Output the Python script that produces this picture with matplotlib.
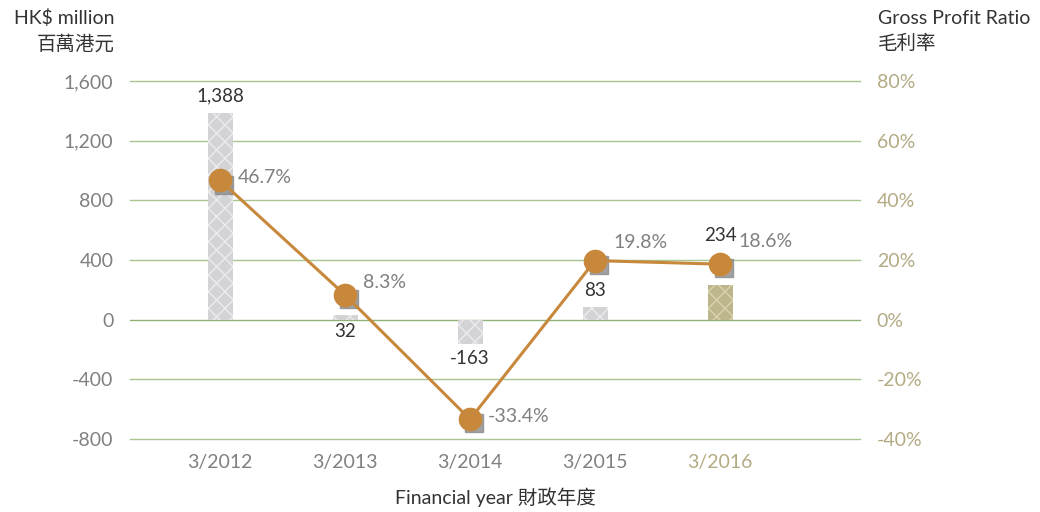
import matplotlib
matplotlib.use('Agg')
import matplotlib.pyplot as plt
import matplotlib.transforms as mtransforms

plt.rcParams['font.family'] = ['Lato', 'Noto Sans CJK TC', 'DejaVu Sans']

years = ['3/2012', '3/2013', '3/2014', '3/2015', '3/2016']
profit = [1388, 32, -163, 83, 234]
ratio = [46.7, 8.3, -33.4, 19.8, 18.6]
profit_labels = ['1,388', '32', '-163', '83', '234']
ratio_labels = ['46.7%', '8.3%', '-33.4%', '19.8%', '18.6%']
left_ticks = [-800, -400, 0, 400, 800, 1200, 1600]
right_ticks = [-40, -20, 0, 20, 40, 60, 80]

grey = '#808080'
khaki = '#b3ab84'
green = '#a9c690'
orange = '#c8883c'
dark = '#333333'

fig = plt.figure(figsize=(10.4, 5.12), dpi=100)
ax = fig.add_axes([0.125, 0.1426, 0.702, 0.6992])
x = list(range(len(years)))

# 柱狀 (灰色 + 最後一年卡其色)
bar_colors = ['#d3d3d6'] * 4 + ['#bdb58c']
bars = ax.bar(x, profit, width=0.2, color=bar_colors, zorder=2)
for b in bars:
    b.set_hatch('xx')
    b.set_edgecolor('#ececee')
    b.set_linewidth(0)
bars[-1].set_edgecolor('#d9d3b0')

ax.set_ylim(-800, 1600)
ax.set_xlim(-0.72, 5.12)
ax.set_yticks(left_ticks)
ax.set_yticklabels(['{:,}'.format(v) for v in left_ticks])
ax.set_xticks(x)
ax.set_xticklabels(years)
ax.tick_params(axis='both', length=0, labelsize=14, colors=grey)
ax.tick_params(axis='x', pad=11)
ax.get_xticklabels()[-1].set_color(khaki)
ax.tick_params(axis='y', pad=12)
for s in ax.spines.values():
    s.set_visible(False)
for t in left_ticks:
    ax.axhline(t, color='#8fb377' if t == 0 else green, lw=1, zorder=1,
               clip_on=False)

# 數值標籤 (offset in points)
label_off = [6, -6, -4, 6, 29]
for xi, v, s, off in zip(x, profit, profit_labels, label_off):
    va = 'bottom' if off > 0 else 'top'
    ax.annotate(s, (xi, v), xytext=(0, off), textcoords='offset points',
                ha='center', va=va, fontsize=13.5, color=dark, zorder=6)

# 右軸 毛利率
ax2 = ax.twinx()
ax2.set_ylim(-40, 80)
ax2.set_yticks(right_ticks)
ax2.set_yticklabels(['{}%'.format(v) for v in right_ticks])
ax2.tick_params(axis='y', length=0, labelsize=14, colors=khaki, pad=12)
for s in ax2.spines.values():
    s.set_visible(False)

shadow = mtransforms.offset_copy(ax2.transData, fig=fig, x=3, y=-3, units='points')
ax2.plot(x, ratio, ls='none', marker='s', ms=13, color='#8a8a8a', alpha=0.8,
         transform=shadow, zorder=3)
ax2.plot(x, ratio, color=orange, lw=2.2, marker='o', ms=16, zorder=4)

ratio_off = [2, 9, 2, 13, 16]
for xi, v, s, off in zip(x, ratio, ratio_labels, ratio_off):
    ax2.annotate(s, (xi, v), xytext=(13, off), textcoords='offset points',
                 ha='left', va='center', fontsize=14, color=grey, zorder=6)

# 軸標題
fig.text(115 / 1040, 1 - 18 / 512, 'HK$ million', ha='right', va='center',
         fontsize=14, color=dark)
fig.text(115 / 1040, 1 - 43 / 512, '百萬港元', ha='right', va='center',
         fontsize=14, color=dark)
fig.text(878 / 1040, 1 - 18 / 512, 'Gross Profit Ratio', ha='left', va='center',
         fontsize=14, color=dark)
fig.text(878 / 1040, 1 - 43 / 512, '毛利率', ha='left', va='center',
         fontsize=14, color=dark)
fig.text(495 / 1040, 1 - 497 / 512, 'Financial year 財政年度', ha='center',
         va='center', fontsize=14, color=dark)

fig.savefig('out.png', dpi=100)
